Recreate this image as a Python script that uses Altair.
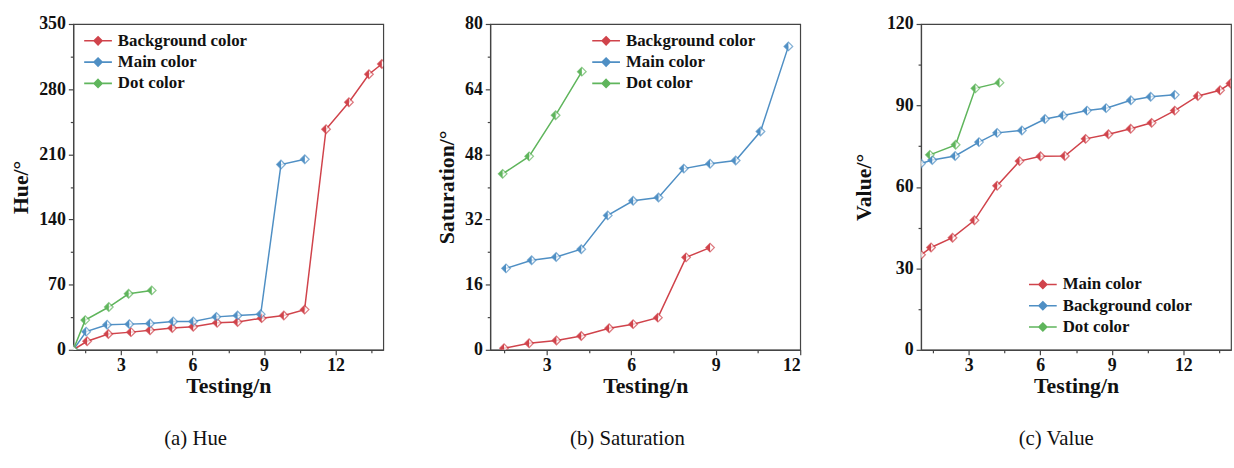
import altair as alt
import pandas as pd

# ---------------- data ----------------
# (a) Hue
HUE_BG_X = [1.0, 1.58, 2.47, 3.42, 4.22, 5.15, 6.03, 7.03, 7.89, 8.9, 9.83, 10.7, 11.6, 12.56, 13.4, 13.94]
HUE_BG_Y = [0, 9.2, 17, 19, 21, 23.4, 24.8, 29, 29.8, 34, 36.8, 43.2, 237, 266, 296, 307]
HUE_MAIN_X = [1.0, 1.54, 2.42, 3.35, 4.22, 5.19, 6.03, 7.0, 7.89, 8.86, 9.71, 10.71]
HUE_MAIN_Y = [0, 19.5, 27, 27.6, 28.3, 30.5, 30.5, 35.4, 36.8, 38.3, 199, 204.7]
HUE_DOT_X = [1.0, 1.5, 2.49, 3.32, 4.29]
HUE_DOT_Y = [0, 31.9, 46, 60.2, 63.8]

# (b) Saturation
SAT_BG_X = [1.49, 2.38, 3.35, 4.23, 5.22, 6.07, 6.95, 7.95, 8.8]
SAT_BG_Y = [0.4, 1.6, 2.3, 3.4, 5.3, 6.3, 7.9, 22.7, 25.1]
SAT_MAIN_X = [1.56, 2.47, 3.34, 4.23, 5.17, 6.07, 6.97, 7.87, 8.8, 9.71, 10.59, 11.58]
SAT_MAIN_Y = [20.0, 22.0, 22.8, 24.7, 33.0, 36.6, 37.4, 44.5, 45.7, 46.5, 53.6, 74.5]
SAT_DOT_X = [1.44, 2.38, 3.32, 4.25]
SAT_DOT_Y = [43.2, 47.5, 57.6, 68.3]

# (c) Value
VAL_MAIN_X = [1.0, 1.42, 2.32, 3.24, 4.19, 5.13, 6.01, 7.03, 7.9, 8.86, 9.79, 10.67, 11.64, 12.61, 13.54, 13.98]
VAL_MAIN_Y = [35.0, 37.7, 41.3, 47.7, 60.4, 69.5, 71.3, 71.4, 77.7, 79.4, 81.4, 83.6, 88.1, 93.5, 95.6, 98.1]
VAL_BG_X = [1.0, 1.47, 2.43, 3.43, 4.19, 5.23, 6.2, 6.96, 7.96, 8.76, 9.8, 10.63, 11.64]
VAL_BG_Y = [68.6, 69.9, 71.4, 76.5, 79.9, 80.8, 85.0, 86.3, 88.1, 89.0, 91.9, 93.2, 93.9]
VAL_DOT_X = [1.37, 2.45, 3.28, 4.29]
VAL_DOT_Y = [71.8, 75.5, 96.3, 98.4]

RED = "#d0434b"
BLUE = "#4f8fc4"
GREEN = "#5fb55c"

FONT = "Liberation Serif"
LEFT_HALF = "M-1,0L0,-1L0,1Z"
LEG_SYMBOL = "M-1.4,0H1.4M0,-0.4L0.4,0L0,0.4L-0.4,0Z"


def make_df(series):
    rows = []
    for name, xs, ys in series:
        for xv, yv in zip(xs, ys):
            rows.append({"series": name, "x": xv, "y": yv})
    return pd.DataFrame(rows)


def panel(df, order, colors, xdom, xticks, xminor, ydom, yticks, yminor,
          ytitle, caption, legx, legy, ytpad, capdx):
    xs = alt.Scale(domain=xdom, nice=False, zero=False)
    ys = alt.Scale(domain=ydom, nice=False, zero=False)
    cs = alt.Scale(domain=order, range=colors)
    xaxis = alt.Axis(values=xticks, title="Testing/n", grid=False, tickSize=5,
                     labelPadding=2, titlePadding=1, orient="bottom")
    yaxis = alt.Axis(values=yticks, title=ytitle, grid=False, tickSize=5,
                     labelPadding=3, titlePadding=ytpad, orient="left")
    legend = alt.Legend(orient="none", legendX=legx, legendY=legy, title=None,
                        symbolType=LEG_SYMBOL, symbolSize=400, symbolStrokeWidth=1.6,
                        symbolFillColor="white",
                        labelFont=FONT, labelFontSize=17, labelFontWeight="bold",
                        labelColor="#111", rowPadding=2.5, labelOffset=9, padding=0)
    base = alt.Chart(df)
    line = base.mark_line(strokeWidth=1.5, clip=True).encode(
        x=alt.X("x:Q", scale=xs, axis=xaxis),
        y=alt.Y("y:Q", scale=ys, axis=yaxis),
        color=alt.Color("series:N", scale=cs, legend=legend, sort=order),
        detail="series:N",
    )
    pt_white = base.mark_point(shape="diamond", filled=True, fill="white", size=75,
                               strokeWidth=1.3, clip=True).encode(
        x=alt.X("x:Q", scale=xs, axis=None), y=alt.Y("y:Q", scale=ys, axis=None),
        stroke=alt.Stroke("series:N", scale=cs, legend=None),
    )
    pt_half = base.mark_point(shape=LEFT_HALF, filled=True, size=75, opacity=1,
                              clip=True).encode(
        x=alt.X("x:Q", scale=xs, axis=None), y=alt.Y("y:Q", scale=ys, axis=None),
        fill=alt.Fill("series:N", scale=cs, legend=None),
    )
    minor = base.mark_point(opacity=0).encode(
        x=alt.X("x:Q", scale=xs, axis=alt.Axis(values=xminor, labels=False, title=None,
                                                 grid=False, tickSize=3, domain=False,
                                                 orient="bottom")),
        y=alt.Y("y:Q", scale=ys, axis=alt.Axis(values=yminor, labels=False, title=None,
                                                 grid=False, tickSize=3, domain=False,
                                                 orient="left")),
    )
    return alt.layer(line, minor, pt_white, pt_half).resolve_axis(
        x="independent", y="independent"
    ).properties(
        width=313, height=329,
        title=alt.TitleParams(caption, orient="bottom", frame="group", anchor="middle",
                              font=FONT, fontSize=21, fontWeight="normal", color="#111",
                              offset=32, dx=capdx),
    )


df_a = make_df([("Background color", HUE_BG_X, HUE_BG_Y),
                ("Main color", HUE_MAIN_X, HUE_MAIN_Y),
                ("Dot color", HUE_DOT_X, HUE_DOT_Y)])
df_b = make_df([("Background color", SAT_BG_X, SAT_BG_Y),
                ("Main color", SAT_MAIN_X, SAT_MAIN_Y),
                ("Dot color", SAT_DOT_X, SAT_DOT_Y)])
df_c = make_df([("Main color", VAL_MAIN_X, VAL_MAIN_Y),
                ("Background color", VAL_BG_X, VAL_BG_Y),
                ("Dot color", VAL_DOT_X, VAL_DOT_Y)])

pa = panel(df_a, ["Background color", "Main color", "Dot color"], [RED, BLUE, GREEN],
           [1, 14], [3, 6, 9, 12], [1.5, 4.5, 7.5, 10.5, 13.5],
           [0, 350], [0, 70, 140, 210, 280, 350], [35, 105, 175, 245, 315],
           "Hue/°", "(a) Hue", 14, 6, 6, -33)
pb = panel(df_b, ["Background color", "Main color", "Dot color"], [RED, BLUE, GREEN],
           [1, 12], [3, 6, 9, 12], [1.5, 4.5, 7.5, 10.5],
           [0, 80], [0, 16, 32, 48, 64, 80], [8, 24, 40, 56, 72],
           "Saturation/°", "(b) Saturation", 106, 6, 6, -18)
pc = panel(df_c, ["Main color", "Background color", "Dot color"], [RED, BLUE, GREEN],
           [1, 14], [3, 6, 9, 12], [1.5, 4.5, 7.5, 10.5, 13.5],
           [0, 120], [0, 30, 60, 90, 120], [15, 45, 75, 105],
           "Value/°", "(c) Value", 112, 252, 11, -20)

chart = alt.hconcat(pa, pb, pc, spacing=50).resolve_scale(
    color="independent", stroke="independent", fill="independent"
).configure(
    background="white", padding={"left": 9, "top": 12, "right": 0, "bottom": 5}
).configure_view(
    stroke="#444", strokeWidth=1.2
).configure_axis(
    labelFont=FONT, labelFontSize=18, labelFontWeight="bold", labelColor="#111",
    titleFont=FONT, titleFontSize=22, titleFontWeight="bold", titleColor="#111",
    domainColor="#444", tickColor="#444", domainWidth=1.2, tickWidth=1.2,
).configure_legend(
    labelFont=FONT, labelFontWeight="bold", labelFontSize=17
)

chart.save("out.html", embed_options={"renderer": "svg", "actions": False})
